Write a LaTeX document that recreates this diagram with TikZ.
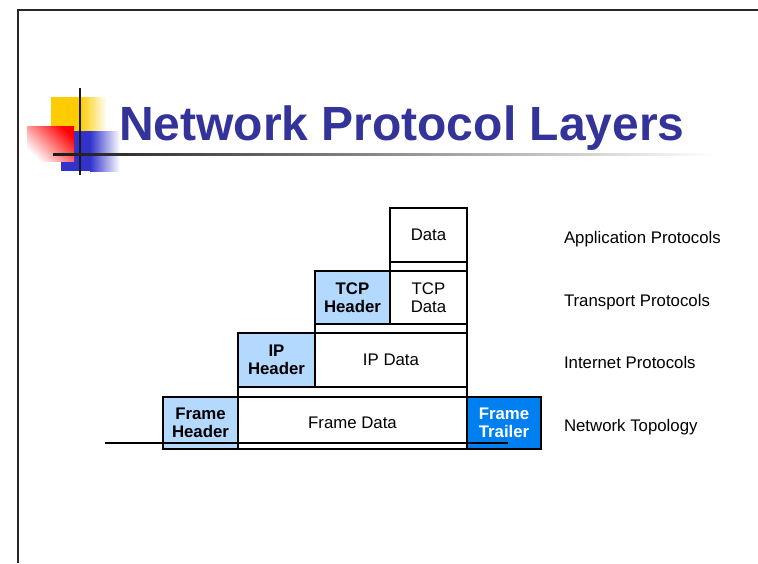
\documentclass[tikz,border=0pt]{standalone}
\usepackage{fontspec}
\setmainfont{Liberation Sans}
\usetikzlibrary{positioning}
\definecolor{hdrblue}{RGB}{179,217,255}
\definecolor{trailblue}{RGB}{0,128,240}
\definecolor{titleblue}{RGB}{51,51,153}
\definecolor{logoyellow}{RGB}{255,204,0}
\definecolor{logoblue}{RGB}{51,51,204}
\tikzset{
    x=1pt, y=-1pt, % work in points, y running down the slide
    every node/.style={font=\fontsize{16.8}{18}\selectfont, inner sep=0pt, outer sep=0pt},
    cell/.style={draw, line width=1.6pt, align=center, minimum height=53pt}, % one field of a packet
    hdr/.style={cell, fill=hdrblue, font=\fontsize{16.8}{18}\selectfont\bfseries}, % header fields
    pad/.style={draw, line width=1.6pt, minimum height=9pt}, % thin band below each layer
    layer/.style={anchor=west, text height=11.5pt, text depth=0pt, yshift=-3pt}, % names on the right
}

\begin{document}
\begin{tikzpicture}
    \useasboundingbox (0,0) rectangle (758,563);

    % slide frame
    \draw[line width=2pt, black!85] (18,563) -- (18,10) -- (758,10);

    % logo squares
    \fill[logoyellow] (51,97) rectangle (80,132);
    \shade[left color=logoyellow, right color=white] (80,97) rectangle (107,132);
    \fill[logoblue] (61,131) rectangle (90,171);
    \shade[left color=logoblue, right color=white] (90,131) rectangle (120,171);
    \shade[left color=white, right color=red, shading angle=135] (27,126) rectangle (74,161);
    \draw[line width=2pt, black!90] (80,88) -- (80,175);
    \shade[left color=black!90, right color=white] (53,153) rectangle (715,155.5);

    \node[anchor=base west, text=titleblue, font=\fontsize{48}{50}\selectfont\bfseries]
        (title) at (119,140) {Network Protocol Layers};

    % network layer
    \node[hdr, minimum width=75pt, minimum height=52pt] (framehdr) at (200.5,423) {Frame\\Header};
    \node[cell, minimum width=229pt, minimum height=52pt] (framedata) [right=0pt of framehdr] {Frame Data};
    \node[hdr, fill=trailblue, text=white, minimum width=74pt, minimum height=52pt] (trailer)
        [right=0pt of framedata] {Frame\\Trailer};
    \node[pad, minimum width=229pt, minimum height=10pt] (pad2) [above=0pt of framedata] {};

    % internet layer
    \node[hdr, minimum width=77pt, minimum height=54pt] (iphdr) [above right=0pt and 0pt of pad2.north west] {IP\\Header};
    \node[cell, minimum width=152pt, minimum height=54pt] (ipdata) [right=0pt of iphdr] {IP Data};
    \node[pad, minimum width=152pt] (pad3) [above=0pt of ipdata] {};

    % transport layer
    \node[hdr, minimum width=75pt] (tcphdr) [above right=0pt and 0pt of pad3.north west] {TCP\\Header};
    \node[cell, minimum width=77pt] (tcpdata) [right=0pt of tcphdr] {TCP\\Data};
    \node[pad, minimum width=77pt] (pad4) [above=0pt of tcpdata] {};

    % application layer
    \node[cell, minimum width=77pt, minimum height=54pt] (data) [above=0pt of pad4] {Data};

    % wire under the frame
    \coordinate (wire-l) at (105,443);
    \coordinate (wire-r) at (508,443);
    \draw[line width=2pt] (wire-l) -- (wire-r);

    \node[layer] (app) [right=97pt of data] {Application Protocols};
    \node[layer] (trans) [right=97pt of tcpdata] {Transport Protocols};
    \node[layer] (inet) [right=97pt of ipdata] {Internet Protocols};
    \node[layer] (topo) [right=97pt of framedata] {Network Topology};
\end{tikzpicture}
\end{document}
